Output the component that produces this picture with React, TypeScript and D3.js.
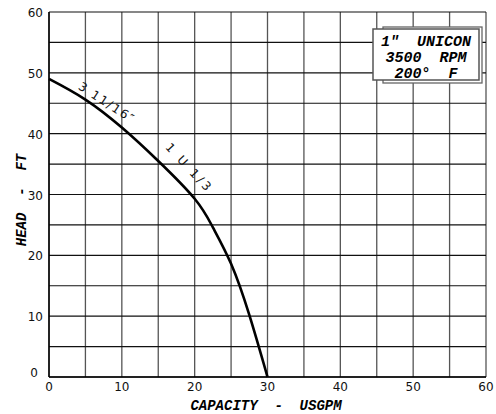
import React from "react";
import * as d3 from "d3";

const flowGpm = [0, 5, 10, 15, 20, 22.5, 25, 27.5, 30];
const headFt = [49, 45.6, 41, 35.5, 29.3, 24.6, 18.6, 10.2, 0];
const xTicks = [0, 10, 20, 30, 40, 50, 60];
const yTicks = [0, 10, 20, 30, 40, 50, 60];
const gridX = d3.range(0, 61, 5);
const gridY = d3.range(0, 61, 5);
const legendLines = ["1\u2033  UNICON", "3500  RPM", "200\u00b0  F"];
const curveLabels = [
  { text: "3 11/16\u2033", flow: 7.9, head: 45.0, angle: 33, spacing: 1.8 },
  { text: "1 U 1/3", flow: 19.2, head: 34.3, angle: 47, spacing: 2.8 },
];

export default function App() {
  const W = 496, H = 414;
  const x = d3.scaleLinear().domain([0, 60]).range([49, 486]);
  const y = d3.scaleLinear().domain([0, 60]).range([377, 12]);
  const line = d3
    .line<number>()
    .x((_, i) => x(flowGpm[i]))
    .y((d) => y(d))
    .curve(d3.curveNatural);
  const mono = "'Liberation Mono', 'DejaVu Sans Mono', monospace";
  const sans = "'DejaVu Sans', sans-serif";
  return (
    <svg width={W} height={H} style={{ position: "absolute", left: 0, top: 0, background: "#fff" }}>
      <rect x={0} y={0} width={W} height={H} fill="#fff" />
      {gridX.map((g) => (
        <line key={"gx" + g} x1={x(g)} x2={x(g)} y1={y(0)} y2={y(60)} stroke="#555" strokeWidth={1.3} />
      ))}
      {gridY.map((g) => (
        <line key={"gy" + g} x1={x(0)} x2={x(60)} y1={y(g)} y2={y(g)} stroke="#111" strokeWidth={1.2} />
      ))}
      <line x1={x(0)} x2={x(0)} y1={y(0)} y2={y(60)} stroke="#000" strokeWidth={1.5} />
      <line x1={x(0)} x2={x(60)} y1={y(0)} y2={y(0)} stroke="#000" strokeWidth={1.5} />
      {yTicks.map((t) => (
        <text key={"yt" + t} x={t === 0 ? 38 : 43} y={y(t) + (t === 0 ? 0 : 5)} textAnchor="end" fontFamily={sans} fontSize={12} fill="#111">
          {t}
        </text>
      ))}
      {xTicks.map((t) => (
        <text key={"xt" + t} x={x(t)} y={y(0) + 14} textAnchor="middle" fontFamily={sans} fontSize={12} fill="#111">
          {t}
        </text>
      ))}
      <path d={line(headFt) || ""} fill="none" stroke="#000" strokeWidth={2.6} />
      {curveLabels.map((c, i) => (
        <text
          key={"cl" + i}
          transform={`translate(${x(c.flow)},${y(c.head)}) rotate(${c.angle})`}
          textAnchor="middle"
          dominantBaseline="middle"
          fontFamily={sans}
          fontSize={12}
          fill="#111"
          letterSpacing={c.spacing}
          style={{ whiteSpace: "pre" }}
        >
          {c.text}
        </text>
      ))}
      <rect x={383} y={27} width={99} height={56} fill="#fff" stroke="#666" strokeWidth={1.3} />
      <rect x={373} y={29} width={106} height={51} fill="#fff" stroke="#555" strokeWidth={1.5} />
      {legendLines.map((l, i) => (
        <text key={"lg" + i} x={426} y={46 + i * 16} textAnchor="middle" fontFamily={mono} fontStyle="italic" fontWeight="bold" fontSize={15} fill="#000" style={{ whiteSpace: "pre" }}>
          {l}
        </text>
      ))}
      <text transform={`translate(26,200) rotate(-90)`} textAnchor="middle" fontFamily={mono} fontStyle="italic" fontWeight="bold" fontSize={14} fill="#000" style={{ whiteSpace: "pre" }}>
        {"HEAD  -  FT"}
      </text>
      <text x={266} y={410} textAnchor="middle" fontFamily={mono} fontStyle="italic" fontWeight="bold" fontSize={14} fill="#000" style={{ whiteSpace: "pre" }}>
        {"CAPACITY  -  USGPM"}
      </text>
    </svg>
  );
}
